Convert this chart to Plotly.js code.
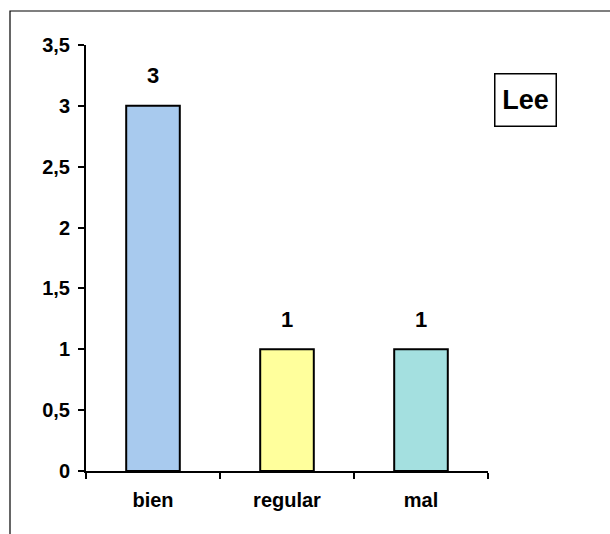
<!DOCTYPE html>
<html>
<head>
<meta charset="utf-8">
<script src="https://cdn.plot.ly/plotly-3.0.1.min.js"></script>
<style>html,body{margin:0;padding:0;background:#fff;}#chart{width:610px;height:534px;}</style>
</head>
<body>
<div id="chart"></div>
<script>
const categories = ["bien", "regular", "mal"];
const values = [3, 1, 1];
const barColors = ["#A8CAEE", "#FFFF9C", "#A4E0E0"];
const legendLabel = "Lee";
const yTickVals = [0, 0.5, 1, 1.5, 2, 2.5, 3, 3.5];

const F = "Liberation Sans, Arial, sans-serif";

const trace = {
  type: "bar",
  x: categories,
  y: values,
  width: 0.4,
  marker: {color: barColors, line: {color: "#000", width: 2}},
  hoverinfo: "none"
};

const labelAnns = categories.map((c, i) => ({
  x: c, y: values[i], xref: "x", yref: "y",
  text: String(values[i]), showarrow: false,
  yshift: 30, font: {family: F, size: 22, color: "#000", weight: "bold"}
}));

const layout = {
  width: 610, height: 534,
  margin: {l: 86, r: 122, t: 45, b: 63, pad: 0},
  paper_bgcolor: "#fff", plot_bgcolor: "#fff",
  separators: ", ",
  showlegend: false,
  xaxis: {
    type: "category",
    range: [-0.5, 2.5],
    showline: true, linecolor: "#000", linewidth: 2,
    ticks: "outside", tickson: "boundaries", ticklen: 6, tickwidth: 2, tickcolor: "#000",
    showgrid: false, zeroline: false,
    tickfont: {family: F, size: 20, color: "#000", weight: "bold"},
    ticklabelstandoff: 10,
    fixedrange: true
  },
  yaxis: {
    range: [0, 3.5],
    tickvals: yTickVals,
    ticktext: yTickVals.map(v => String(v).replace(".", ",")),
    showline: true, linecolor: "#000", linewidth: 2,
    ticks: "outside", ticklen: 6, tickwidth: 2, tickcolor: "#000",
    showgrid: false, zeroline: false,
    tickfont: {family: F, size: 20, color: "#000", weight: "bold"},
    ticklabelstandoff: 4,
    fixedrange: true
  },
  shapes: [{
    type: "rect", xref: "paper", yref: "paper",
    x0: (10 - 86) / 402, x1: 1.5,
    y0: -0.5, y1: (471 - 11) / 426,
    line: {color: "#000", width: 1.2}, fillcolor: "rgba(0,0,0,0)"
  }],
  annotations: labelAnns.concat([{
    xref: "paper", yref: "paper",
    x: (525 - 86) / 402, y: (471 - 100) / 426,
    xanchor: "center", yanchor: "middle",
    text: legendLabel, showarrow: false,
    width: 60, height: 51, borderpad: 0,
    bordercolor: "#000", borderwidth: 1.5, bgcolor: "#fff",
    font: {family: F, size: 27, color: "#000", weight: "bold"}
  }])
};

Plotly.newPlot("chart", [trace], layout, {displayModeBar: false, staticPlot: true});
</script>
</body>
</html>
